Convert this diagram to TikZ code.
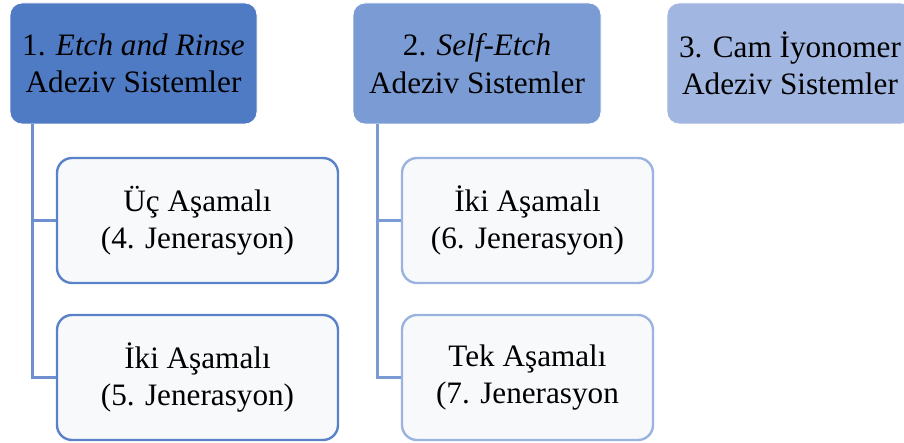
\documentclass[tikz,border=0pt]{standalone}
\usepackage{fontspec}
\setmainfont{Liberation Serif}
\definecolor{pA}{HTML}{4F7AC4}
\definecolor{pB}{HTML}{7B9BD4}
\definecolor{pC}{HTML}{A1B6E0}
\definecolor{cfill}{HTML}{F8F9FB}
\definecolor{bA}{HTML}{5A82C8}
\definecolor{bB}{HTML}{9AB3E0}
\definecolor{lA}{HTML}{6E8FD0}
\definecolor{lB}{HTML}{7B9BD4}
\begin{document}
\begin{tikzpicture}[x=1pt,y=-1pt,
  txt/.style={font=\fontsize{31.2}{37.5}\selectfont, align=center, inner sep=0pt},
  parentbox/.style={txt, rectangle, rounded corners=12pt, minimum height=121pt, draw=white, line width=0.8pt},
  childbox/.style={txt, rectangle, rounded corners=15pt, minimum height=125pt, fill=cfill, line width=2.4pt},
  link/.style={line width=3pt}]
\useasboundingbox (0,0) rectangle (904,443);
\clip (0,0) rectangle (904,443);
\node[parentbox, fill=pA, minimum width=247pt] (p1) at (133.5,63.5) {1. \textit{Etch and Rinse}\\Adeziv Sistemler};
\node[parentbox, fill=pB, minimum width=248pt] (p2) at (477,63.5) {2. \textit{Self-Etch}\\Adeziv Sistemler};
\node[parentbox, fill=pC, minimum width=246pt] (p3) at (790,63.5) {3. Cam İyonomer\\Adeziv Sistemler};
\node[childbox, draw=bA, minimum width=281pt] (c11) at (197.5,220.5) {Üç Aşamalı\\(4. Jenerasyon)};
\node[childbox, draw=bA, minimum width=281pt] (c12) at (197.5,377.5) {İki Aşamalı\\(5. Jenerasyon)};
\node[childbox, draw=bB, minimum width=251pt] (c21) at (527.5,220.5) {İki Aşamalı\\(6. Jenerasyon)};
\node[childbox, draw=bB, minimum width=251pt] (c22) at (527.5,377.5) {Tek Aşamalı\\(7. Jenerasyon};
\coordinate (t1) at (p1.south west -| 32,0);
\coordinate (t2) at (p2.south west -| 377,0);
\draw[link, draw=lA] (t1) |- (c11.west);
\draw[link, draw=lA] (t1) |- (c12.west);
\draw[link, draw=lB] (t2) |- (c21.west);
\draw[link, draw=lB] (t2) |- (c22.west);
\end{tikzpicture}
\end{document}
